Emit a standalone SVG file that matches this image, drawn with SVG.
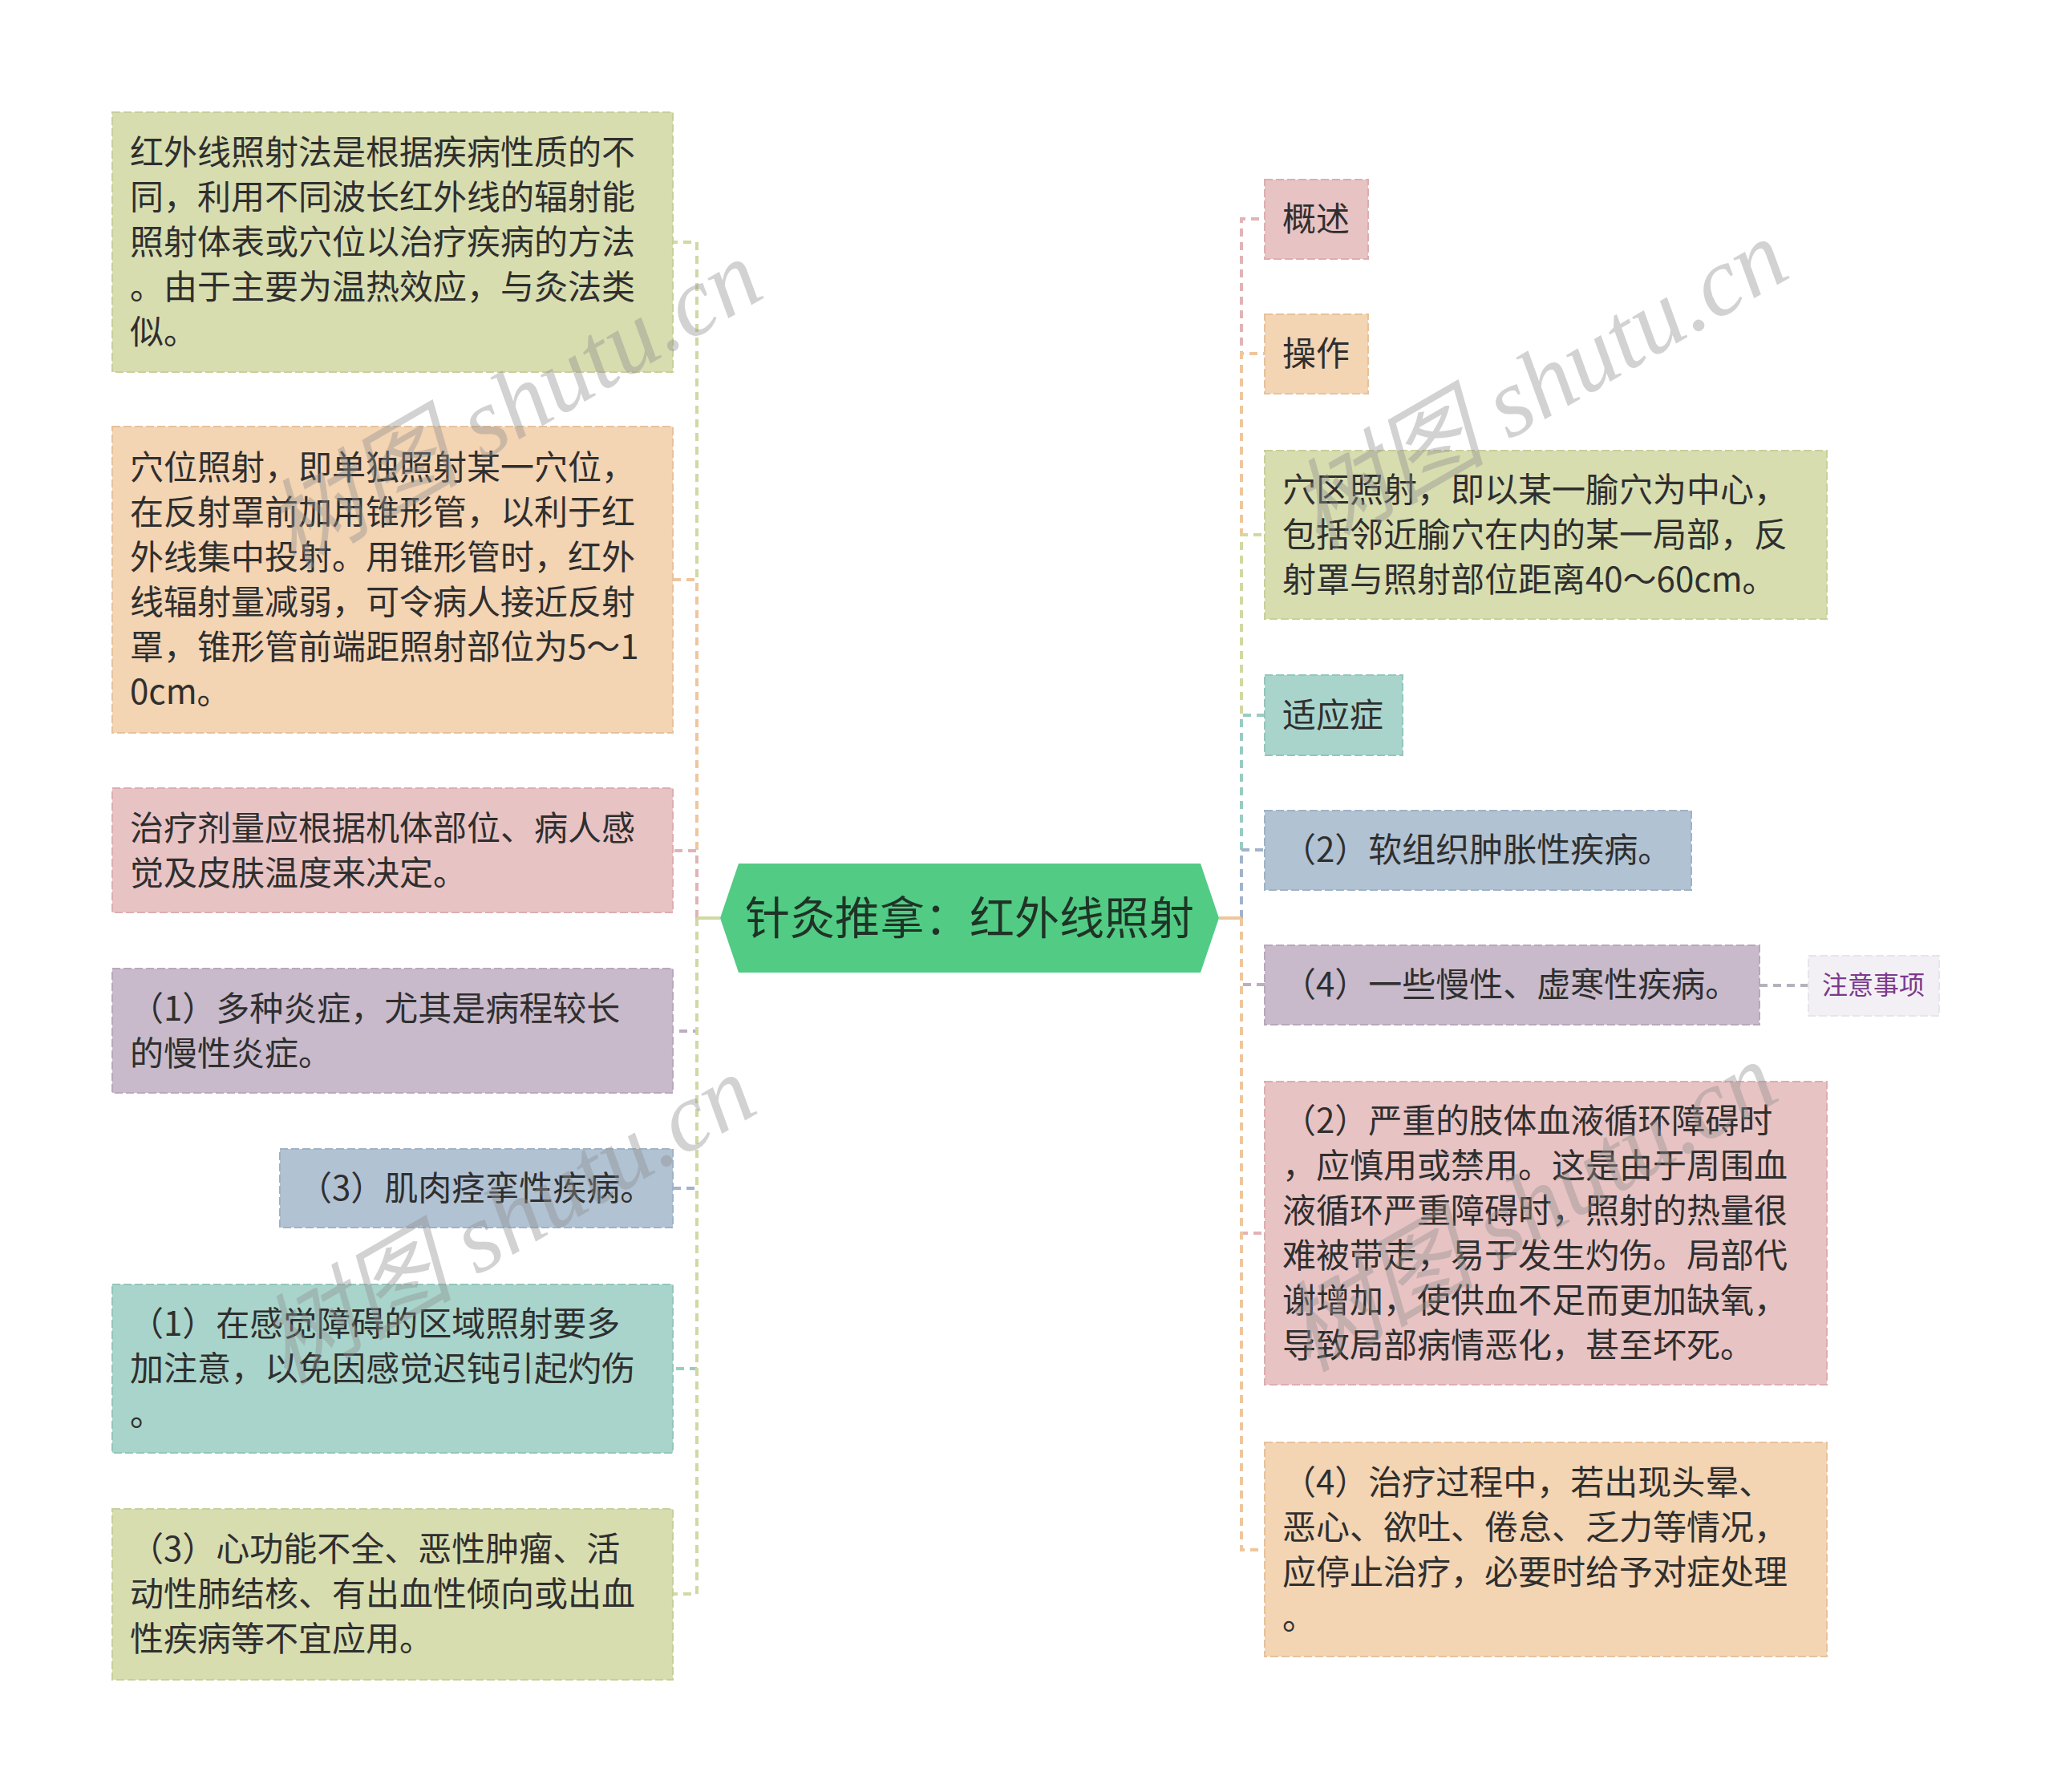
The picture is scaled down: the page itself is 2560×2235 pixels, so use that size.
<svg xmlns="http://www.w3.org/2000/svg" width="2560" height="2235" viewBox="0 0 2560 2235">
<style>
.bg{fill:#ffffff}
.t{font-family:"Noto Sans CJK SC","Noto Sans",sans-serif;font-size:42px;fill:#2f2f2f}
.box{stroke-width:2;stroke-dasharray:10 4}
.olive{fill:#d8ddb0;stroke:#c9cf9a}
.orange{fill:#f3d4b3;stroke:#e6c29c}
.pink{fill:#e8c3c4;stroke:#dcaeb0}
.purple{fill:#c8bacb;stroke:#b8a8bc}
.blue{fill:#b1c2d3;stroke:#9fb2c6}
.teal{fill:#a9d4cb;stroke:#94c6bb}
.c{fill:none;stroke-width:4;stroke-dasharray:10 7}
.co{stroke:#d2d8a2}.cr{stroke:#efc69c}.cp{stroke:#e2b3b6}.cu{stroke:#bcadc2}.cb{stroke:#a0b4ca}.ct{stroke:#99ccc1}
.wm{font-family:"Liberation Serif","Noto Sans CJK SC",serif;font-style:italic;font-size:122px;fill:#8f8f8f;fill-opacity:0.4}
</style>
<rect class="bg" x="0" y="0" width="2560" height="2235"/>

<g id="connectors">
  <path class="c co" d="M869 1145 V302 H839"/>
  <path class="c cr" d="M869 1145 V723 H839"/>
  <path class="c cp" d="M869 1145 V1061 H839"/>
  <path class="c cu" d="M869 1145 V1286 H839"/>
  <path class="c cb" d="M869 1145 V1482 H839"/>
  <path class="c ct" d="M869 1145 V1707 H839"/>
  <path class="c co" d="M869 1145 V1988 H839"/>
  <path d="M898 1145 H869" stroke="#d2d8a2" stroke-width="4" fill="none"/>

  <path class="c cp" d="M1548 1145 V273 H1577"/>
  <path class="c cr" d="M1548 1145 V441 H1577"/>
  <path class="c co" d="M1548 1145 V667 H1577"/>
  <path class="c ct" d="M1548 1145 V892 H1577"/>
  <path class="c cb" d="M1548 1145 V1060 H1577"/>
  <path class="c cu" d="M1548 1145 V1228 H1577"/>
  <path class="c cp" d="M1548 1145 V1538 H1577"/>
  <path class="c cr" d="M1548 1145 V1933 H1577"/>
  <path d="M1520 1145 H1548" stroke="#efc69c" stroke-width="4" fill="none"/>

  <path class="c" stroke="#b5b2bd" d="M2194 1229 H2255"/>
</g>

<g id="center">
  <polygon points="898,1145 921,1077 1497,1077 1520,1145 1497,1213 921,1213" fill="#52cb84"/>
  <text x="1209" y="1165" text-anchor="middle" font-family="'Noto Sans CJK SC','Noto Sans',sans-serif" font-size="56" fill="#1f3326">针灸推拿：红外线照射</text>
</g>

<g id="L1">
  <rect class="box olive" x="140" y="140" width="699" height="324"/>
  <text class="t"><tspan x="162" y="205">红外线照射法是根据疾病性质的不</tspan><tspan x="162" y="261">同，利用不同波长红外线的辐射能</tspan><tspan x="162" y="317">照射体表或穴位以治疗疾病的方法</tspan><tspan x="162" y="373">。由于主要为温热效应，与灸法类</tspan><tspan x="162" y="429">似。</tspan></text>
</g>
<g id="L2">
  <rect class="box orange" x="140" y="532" width="699" height="382"/>
  <text class="t"><tspan x="162" y="598">穴位照射，即单独照射某一穴位，</tspan><tspan x="162" y="654">在反射罩前加用锥形管，以利于红</tspan><tspan x="162" y="710">外线集中投射。用锥形管时，红外</tspan><tspan x="162" y="766">线辐射量减弱，可令病人接近反射</tspan><tspan x="162" y="822">罩，锥形管前端距照射部位为5～1</tspan><tspan x="162" y="878">0cm。</tspan></text>
</g>
<g id="L3">
  <rect class="box pink" x="140" y="983" width="699" height="155"/>
  <text class="t"><tspan x="162" y="1048">治疗剂量应根据机体部位、病人感</tspan><tspan x="162" y="1104">觉及皮肤温度来决定。</tspan></text>
</g>
<g id="L4">
  <rect class="box purple" x="140" y="1208" width="699" height="155"/>
  <text class="t"><tspan x="162" y="1273">（1）多种炎症，尤其是病程较长</tspan><tspan x="162" y="1329">的慢性炎症。</tspan></text>
</g>
<g id="L5">
  <rect class="box blue" x="349" y="1433" width="490" height="98"/>
  <text class="t" x="372" y="1497">（3）肌肉痉挛性疾病。</text>
</g>
<g id="L6">
  <rect class="box teal" x="140" y="1602" width="699" height="210"/>
  <text class="t"><tspan x="162" y="1666">（1）在感觉障碍的区域照射要多</tspan><tspan x="162" y="1722">加注意，以免因感觉迟钝引起灼伤</tspan><tspan x="162" y="1778">。</tspan></text>
</g>
<g id="L7">
  <rect class="box olive" x="140" y="1882" width="699" height="213"/>
  <text class="t"><tspan x="162" y="1947">（3）心功能不全、恶性肿瘤、活</tspan><tspan x="162" y="2003">动性肺结核、有出血性倾向或出血</tspan><tspan x="162" y="2059">性疾病等不宜应用。</tspan></text>
</g>

<g id="R1">
  <rect class="box pink" x="1577" y="224" width="129" height="99"/>
  <text class="t" x="1599" y="288">概述</text>
</g>
<g id="R2">
  <rect class="box orange" x="1577" y="392" width="129" height="99"/>
  <text class="t" x="1599" y="456">操作</text>
</g>
<g id="R3">
  <rect class="box olive" x="1577" y="562" width="701" height="210"/>
  <text class="t"><tspan x="1599" y="626">穴区照射，即以某一腧穴为中心，</tspan><tspan x="1599" y="682">包括邻近腧穴在内的某一局部，反</tspan><tspan x="1599" y="738">射罩与照射部位距离40～60cm。</tspan></text>
</g>
<g id="R4">
  <rect class="box teal" x="1577" y="842" width="172" height="100"/>
  <text class="t" x="1599" y="907">适应症</text>
</g>
<g id="R5">
  <rect class="box blue" x="1577" y="1011" width="532" height="99"/>
  <text class="t" x="1599" y="1075">（2）软组织肿胀性疾病。</text>
</g>
<g id="R6">
  <rect class="box purple" x="1577" y="1179" width="617" height="99"/>
  <text class="t" x="1599" y="1243">（4）一些慢性、虚寒性疾病。</text>
</g>
<g id="R7">
  <rect x="2255" y="1192" width="163" height="75" fill="#f3f0f5" stroke="#e8e4ec" stroke-width="2" stroke-dasharray="10 4"/>
  <text x="2336" y="1240" text-anchor="middle" font-family="'Noto Sans CJK SC','Noto Sans',sans-serif" font-size="32" fill="#7b3a8b">注意事项</text>
</g>
<g id="R8">
  <rect class="box pink" x="1577" y="1349" width="701" height="378"/>
  <text class="t"><tspan x="1599" y="1413">（2）严重的肢体血液循环障碍时</tspan><tspan x="1599" y="1469">，应慎用或禁用。这是由于周围血</tspan><tspan x="1599" y="1525">液循环严重障碍时，照射的热量很</tspan><tspan x="1599" y="1581">难被带走，易于发生灼伤。局部代</tspan><tspan x="1599" y="1637">谢增加，使供血不足而更加缺氧，</tspan><tspan x="1599" y="1693">导致局部病情恶化，甚至坏死。</tspan></text>
</g>
<g id="R9">
  <rect class="box orange" x="1577" y="1799" width="701" height="267"/>
  <text class="t"><tspan x="1599" y="1864">（4）治疗过程中，若出现头晕、</tspan><tspan x="1599" y="1920">恶心、欲吐、倦怠、乏力等情况，</tspan><tspan x="1599" y="1976">应停止治疗，必要时给予对症处理</tspan><tspan x="1599" y="2032">。</tspan></text>
</g>

<g id="watermark">
  <text class="wm" text-anchor="middle" transform="translate(661,540) rotate(-30)">树图 shutu.cn</text>
  <text class="wm" text-anchor="middle" transform="translate(1940,515) rotate(-30)">树图 shutu.cn</text>
  <text class="wm" text-anchor="middle" transform="translate(653,1557) rotate(-30)">树图 shutu.cn</text>
  <text class="wm" text-anchor="middle" transform="translate(1927,1541) rotate(-30)" fill-opacity="0.22">树图 shutu.cn</text>
</g>
</svg>
